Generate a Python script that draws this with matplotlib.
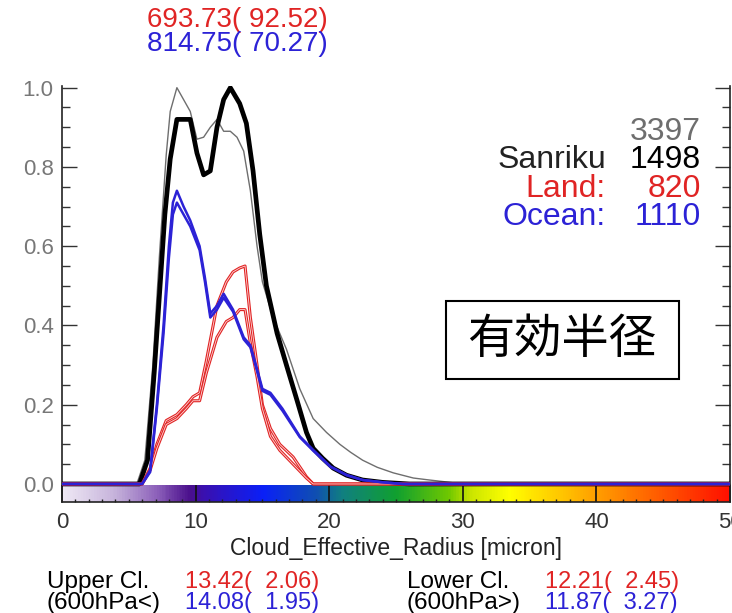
import numpy as np
import matplotlib
matplotlib.use('Agg')
import matplotlib.pyplot as plt
from matplotlib.colors import LinearSegmentedColormap
from matplotlib.patches import Rectangle
from matplotlib.ticker import MultipleLocator

plt.rcParams['font.family'] = ['Liberation Sans', 'DejaVu Sans']

# normalized frequency of cloud effective radius [micron]
radius_all = [0, 5.6, 6.2, 6.8, 7.3, 7.8, 8.1, 8.6, 9.1, 9.6, 10.1, 10.6, 11.1, 11.6,
              12.1, 12.6, 13.1, 13.6, 14.1, 14.6, 15.0, 15.8, 16.8, 17.8, 18.8, 19.8,
              20.8, 21.6, 22.5, 23.6, 24.8, 26.3, 27.5, 28.8, 30.0, 50]
freq_all = [0, 0, 0.06, 0.30, 0.58, 0.83, 0.94, 1.0, 0.97, 0.94, 0.87, 0.875, 0.90, 0.92,
            0.89, 0.89, 0.875, 0.84, 0.74, 0.60, 0.51, 0.42, 0.34, 0.24, 0.165, 0.13,
            0.10, 0.08, 0.06, 0.042, 0.028, 0.015, 0.01, 0.005, 0, 0]

radius_sanriku = [0, 5.8, 6.4, 6.9, 7.3, 7.7, 8.1, 8.6, 9.6, 10.1, 10.6, 11.1, 11.6, 12.1,
                  12.6, 13.3, 13.8, 14.3, 14.8, 15.3, 16.1, 16.8, 17.6, 18.3, 18.8, 19.5,
                  20.3, 21.3, 22.5, 24.0, 26.0, 50]
freq_sanriku = [0, 0, 0.06, 0.28, 0.48, 0.68, 0.82, 0.92, 0.92, 0.835, 0.78, 0.79, 0.90, 0.97,
                1.0, 0.96, 0.91, 0.79, 0.63, 0.50, 0.38, 0.30, 0.21, 0.13, 0.09, 0.065,
                0.04, 0.022, 0.01, 0.004, 0, 0]

radius_land = [0, 6.0, 6.6, 7.1, 7.8, 8.6, 9.3, 9.8, 10.3, 10.8, 11.6, 12.3, 12.8, 13.3,
               13.7, 14.1, 14.6, 15.0, 15.6, 16.3, 17.3, 18.3, 18.8, 50]
freq_land_a = [0, 0, 0.04, 0.10, 0.16, 0.175, 0.20, 0.22, 0.23, 0.31, 0.45, 0.51, 0.535, 0.545,
               0.55, 0.42, 0.30, 0.20, 0.14, 0.10, 0.068, 0.018, 0, 0]
freq_land_b = [0, 0, 0.035, 0.09, 0.15, 0.165, 0.19, 0.21, 0.21, 0.28, 0.37, 0.41, 0.42, 0.44,
               0.44, 0.355, 0.27, 0.19, 0.12, 0.085, 0.05, 0.015, 0, 0]

radius_ocean = [0, 6.0, 6.6, 7.1, 7.6, 8.0, 8.3, 8.6, 9.1, 9.6, 10.3, 10.7, 11.1, 11.6, 12.1,
                12.8, 13.6, 14.1, 14.6, 15.0, 15.6, 16.5, 17.8, 18.8, 20.1, 21.3, 22.5, 23.8,
                25.5, 50]
freq_ocean_a = [0, 0, 0.035, 0.20, 0.40, 0.60, 0.71, 0.74, 0.70, 0.665, 0.60, 0.52, 0.43, 0.45,
                0.48, 0.44, 0.37, 0.35, 0.29, 0.24, 0.23, 0.19, 0.12, 0.086, 0.044, 0.023,
                0.01, 0.005, 0, 0]
freq_ocean_b = [0, 0, 0.03, 0.19, 0.38, 0.57, 0.68, 0.71, 0.68, 0.65, 0.59, 0.51, 0.42, 0.44,
                0.47, 0.435, 0.365, 0.345, 0.285, 0.235, 0.225, 0.185, 0.118, 0.084, 0.043,
                0.022, 0.01, 0.005, 0, 0]

counts = {'all': 3397, 'Sanriku': 1498, 'Land:': 820, 'Ocean:': 1110}
pressure_stats = ['693.73( 92.52)', '814.75( 70.27)']
upper_stats = ['13.42(  2.06)', '14.08(  1.95)']
lower_stats = ['12.21(  2.45)', '11.87(  3.27)']

RED = '#e02424'
BLUE = '#2c22d6'
GRAY = '#6e6e6e'

W, H = 732, 613


def fx(px):
    return px / W


def fy(py):
    return 1 - py / H


fig = plt.figure(figsize=(W / 100, H / 100), dpi=100)
ax = fig.add_axes([fx(62), fy(501.8), (730 - 62) / W, (501.8 - 85.7) / H])
ax.set_xlim(0, 50)
ax.set_ylim(-0.045, 1.005)

# colour bar along the bottom of the axes
bar_cmap = LinearSegmentedColormap.from_list('radius_bar', [
    (0.0, '#efe9f5'), (0.08, '#c4b0da'), (0.14, '#8c60ba'), (0.19, '#4a0f8c'),
    (0.21, '#3a10b0'), (0.30, '#0a20f8'), (0.38, '#1050b0'), (0.42, '#108080'),
    (0.50, '#10a030'), (0.58, '#70c800'), (0.61, '#c8e400'), (0.67, '#ffff00'),
    (0.80, '#ffa000'), (1.0, '#ff1000')])
ax.imshow(np.linspace(0, 1, 500)[None, :], cmap=bar_cmap, aspect='auto',
          extent=[0, 50, -0.045, -0.003], zorder=1)

ax.plot(radius_all, freq_all, color=GRAY, lw=1.0, zorder=3)
ax.plot(radius_sanriku, freq_sanriku, color='black', lw=3.4, zorder=4)
for f in (freq_land_a, freq_land_b):
    ax.plot(radius_land, f, color=RED, lw=2.2, zorder=5)
    ax.plot(radius_land, f, color='#ffd8d8', lw=0.6, zorder=5)
for f in (freq_ocean_a, freq_ocean_b):
    ax.plot(radius_ocean, f, color=BLUE, lw=1.8, zorder=6)

ax.spines['top'].set_visible(False)
for s in ('left', 'right', 'bottom'):
    ax.spines[s].set_color('#222222')
    ax.spines[s].set_linewidth(1.2)

ax.xaxis.set_major_locator(MultipleLocator(10))
ax.xaxis.set_minor_locator(MultipleLocator(1))
ax.yaxis.set_minor_locator(MultipleLocator(0.05))
ax.set_yticks(np.arange(0, 1.01, 0.2))
ax.set_yticklabels(['%.1f' % v for v in np.arange(0, 1.01, 0.2)])
ax.tick_params(axis='x', which='major', direction='in', length=12.2, width=1.2,
               color='#111111', labelsize=16, labelcolor='#333333', pad=7, top=False)
ax.tick_params(axis='x', which='minor', direction='in', length=2.5, width=1,
               color='#222222', top=False)
ax.tick_params(axis='y', which='major', direction='in', length=10.8, width=1,
               color='#333333', labelsize=16, labelcolor='#777777', pad=6,
               left=True, right=True)
ax.tick_params(axis='y', which='minor', direction='in', length=5.8, width=1,
               color='#333333', left=True, right=True)
ax.set_xlabel('Cloud_Effective_Radius [micron]', fontsize=16.5, color='#222222', labelpad=3)

# pressure statistics above the plot
fig.text(fx(147), fy(27), pressure_stats[0], color=RED, fontsize=20, va='baseline')
fig.text(fx(147), fy(51), pressure_stats[1], color=BLUE, fontsize=20, va='baseline')

# sample counts
legend_rows = [('', counts['all'], GRAY, GRAY),
               ('Sanriku', counts['Sanriku'], '#222222', 'black'),
               ('Land:', counts['Land:'], RED, RED),
               ('Ocean:', counts['Ocean:'], BLUE, BLUE)]
for i, (name, n, c_name, c_num) in enumerate(legend_rows):
    yb = 140 + 28.3 * i
    fig.text(fx(606), fy(yb), name, color=c_name, fontsize=23, ha='right', va='baseline')
    fig.text(fx(701), fy(yb), '%d' % n, color=c_num, fontsize=23, ha='right', va='baseline')

# title box
fig.add_artist(Rectangle((fx(446), fy(378.5)), (679 - 446) / W, (378.5 - 300.5) / H,
                         transform=fig.transFigure, fill=False, edgecolor='black', lw=1.5))
fig.text(fx(562), fy(340), '有効半径', fontsize=34, ha='center', va='center',
         family=['Noto Sans CJK JP', 'DejaVu Sans'])

# mean (std) of effective radius for upper and lower clouds
fig.text(fx(47), fy(588), 'Upper Cl.', color='black', fontsize=17.5, va='baseline')
fig.text(fx(47), fy(609), '(600hPa<)', color='black', fontsize=17.5, va='baseline')
fig.text(fx(185), fy(588), upper_stats[0], color=RED, fontsize=17, va='baseline')
fig.text(fx(185), fy(609), upper_stats[1], color=BLUE, fontsize=17, va='baseline')
fig.text(fx(407), fy(588), 'Lower Cl.', color='black', fontsize=17.5, va='baseline')
fig.text(fx(407), fy(609), '(600hPa>)', color='black', fontsize=17.5, va='baseline')
fig.text(fx(545), fy(588), lower_stats[0], color=RED, fontsize=17, va='baseline')
fig.text(fx(545), fy(609), lower_stats[1], color=BLUE, fontsize=17, va='baseline')

fig.savefig('out.png', dpi=100)
